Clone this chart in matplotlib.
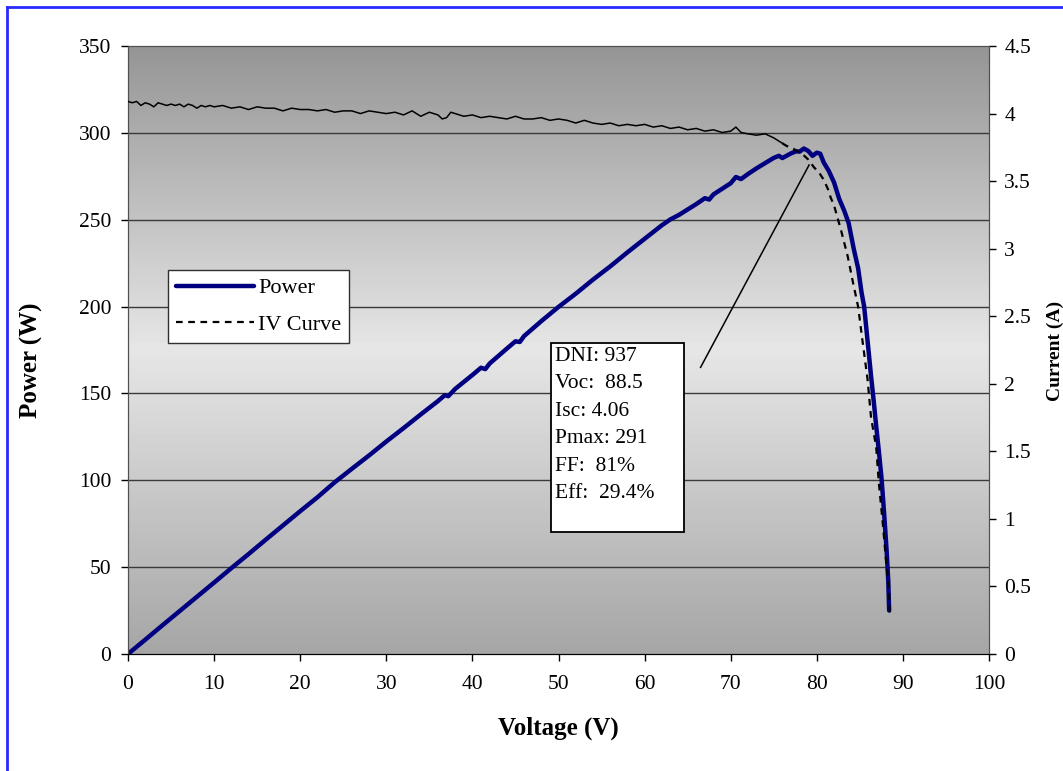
import numpy as np
import matplotlib
matplotlib.use("Agg")
import matplotlib.pyplot as plt
from matplotlib.lines import Line2D
from matplotlib.patches import Rectangle
from matplotlib.ticker import FuncFormatter

plt.rcParams['font.family'] = ['Liberation Serif', 'DejaVu Serif']

# power curve (V, W)
pv_volt = [0, 2, 4, 6, 8, 10, 12, 14, 16, 18, 20, 22, 24, 26, 28, 30, 32, 34,
           36, 36.8, 37.2, 38, 40, 41, 41.5, 42, 44, 45, 45.5, 46, 48, 50, 52,
           54, 56, 58, 60, 62, 63, 64, 66, 67, 67.5, 68, 70, 70.6, 71.2, 72, 73,
           74, 75, 75.6, 76, 77, 77.6, 78, 78.5, 79, 79.5, 80, 80.4, 80.8, 81.4,
           82, 82.6, 83.2, 83.7, 84.3, 84.8, 85.2, 85.5, 86.0, 86.3, 86.6, 86.9,
           87.2, 87.5, 87.7, 87.9, 88.1, 88.3, 88.4]
power = [0, 8.2, 16.5, 24.7, 32.9, 41.1, 49.4, 57.5, 65.8, 74.0, 82.2, 90.2,
         98.8, 106.6, 114.3, 122.3, 130.0, 137.9, 145.6, 149.0, 148.4, 152.6,
         160.6, 164.8, 164.0, 167.2, 175.8, 180.0, 179.6, 183.0, 191.6, 199.8,
         207.4, 215.5, 223.1, 231.2, 239.0, 246.8, 250.2, 252.8, 259.0, 262.4,
         261.6, 264.6, 271.0, 274.6, 273.4, 276.3, 279.6, 282.6, 285.6, 286.8,
         285.5, 288.2, 289.4, 289.2, 291.0, 289.6, 286.8, 288.6, 288.0, 283.0,
         278.0, 271.5, 262.0, 255.0, 248.0, 233.0, 222.0, 208.0, 200.0, 175.0,
         160.0, 146.0, 131.0, 117.0, 102.0, 89.0, 75.0, 60.0, 42.0, 25.0]

# IV curve (V, A): flat, noisy part
iv_volt = [0, 0.5, 1, 1.5, 2, 2.5, 3, 3.5, 4, 4.5, 5, 5.5, 6, 6.5, 7, 7.5, 8,
           8.5, 9, 9.5, 10, 11, 12, 13, 14, 15, 16, 17, 18, 19, 20, 21, 22, 23,
           24, 25, 26, 27, 28, 29, 30, 31, 32, 33, 34, 35, 36, 36.5, 37, 37.5,
           38, 39, 40, 41, 42, 43, 44, 45, 46, 47, 48, 49, 50, 51, 52, 53, 54,
           55, 56, 57, 58, 59, 60, 61, 62, 63, 64, 65, 66, 67, 68, 69, 70, 70.6,
           71.2, 72, 73, 74, 75, 75.5, 76]
current = [4.09, 4.08, 4.09, 4.06, 4.08, 4.07, 4.05, 4.08, 4.07, 4.06, 4.07,
           4.06, 4.07, 4.05, 4.07, 4.06, 4.04, 4.06, 4.05, 4.06, 4.05, 4.06,
           4.04, 4.05, 4.03, 4.05, 4.04, 4.04, 4.02, 4.04, 4.03, 4.03, 4.02,
           4.03, 4.01, 4.02, 4.02, 4.00, 4.02, 4.01, 4.00, 4.01, 3.99, 4.02,
           3.98, 4.01, 3.99, 3.96, 3.97, 4.01, 4.00, 3.98, 3.99, 3.97, 3.98,
           3.97, 3.96, 3.98, 3.96, 3.96, 3.97, 3.95, 3.96, 3.95, 3.93, 3.95,
           3.93, 3.92, 3.93, 3.91, 3.92, 3.91, 3.92, 3.90, 3.91, 3.89, 3.90,
           3.88, 3.89, 3.87, 3.88, 3.86, 3.87, 3.90, 3.86, 3.85, 3.84, 3.85,
           3.82, 3.80, 3.78]
# IV curve: knee and drop (dashed)
drop_volt = [76, 76.5, 77, 77.8, 78.5, 79, 79.7, 80.2, 80.8, 81.3, 81.6, 82.0,
             82.8, 83.6, 84.2, 84.8, 85.3, 85.9, 86.3, 86.9, 87.2, 87.7, 88.0,
             88.4, 88.5]
drop_current = [3.78, 3.76, 3.75, 3.72, 3.69, 3.66, 3.60, 3.57, 3.51, 3.44,
                3.38, 3.32, 3.14, 2.94, 2.75, 2.57, 2.32, 2.03, 1.75, 1.53,
                1.27, 0.94, 0.72, 0.45, 0.28]

info = ["DNI: 937", "Voc:  88.5", "Isc: 4.06", "Pmax: 291", "FF:  81%",
        "Eff:  29.4%"]

fig = plt.figure(figsize=(10.63, 7.71), dpi=100)
ax = fig.add_axes([0.1204, 0.1518, 0.8100, 0.7885])

# gradient background: dark at top and bottom, light in the middle
g = np.concatenate([np.linspace(0.585, 0.90, 60), np.linspace(0.90, 0.65, 60)])
ax.imshow(g.reshape(-1, 1), extent=[0, 100, 0, 350], aspect='auto',
          cmap='gray', vmin=0, vmax=1, zorder=0, interpolation='bilinear')
for yv in range(50, 350, 50):
    ax.axhline(yv, color='#3a3a3a', lw=1, zorder=1)

ax.plot(pv_volt, power, color='#000080', lw=3.2, solid_capstyle='round',
        solid_joinstyle='round', zorder=3)
ax.plot([66.5, 79.1], [165, 281.5], color='black', lw=1.1, zorder=4)

ax.set_xlim(0, 100)
ax.set_ylim(0, 350)
ax.set_xticks(range(0, 101, 10))
ax.set_yticks(range(0, 351, 50))

ax2 = ax.twinx()
ax2.set_ylim(0, 4.5)
ax2.set_yticks(np.arange(0, 4.51, 0.5))
ax2.yaxis.set_major_formatter(FuncFormatter(lambda v, p: '%g' % v))
ax2.plot(iv_volt, current, color='black', lw=1.1, zorder=3)
ax2.plot(drop_volt, drop_current, color='black', lw=1.6, ls=(0, (3, 2.5)),
         zorder=3)

for a in (ax, ax2):
    a.tick_params(direction='out', length=5, width=1, labelsize=15.5,
                  color='black')
    for s in a.spines.values():
        s.set_color('#505050')
ax.tick_params(axis='x', pad=10)
ax.tick_params(axis='y', pad=7)
ax2.tick_params(axis='y', pad=6)
ax.spines['bottom'].set_color('black')
ax2.spines['bottom'].set_color('black')

handles = [Line2D([], [], color='#000080', lw=3.2, solid_capstyle='round'),
           Line2D([], [], color='black', lw=1.6, ls=(0, (3, 2.5)))]
leg = ax2.legend(handles, ['Power', 'IV Curve'], loc='upper left',
                 bbox_to_anchor=(0.0465, 0.6316), fontsize=16,
                 handlelength=3.5, handletextpad=0.2, borderpad=0.35,
                 labelspacing=0.72, fancybox=False, framealpha=1,
                 edgecolor='#303030', borderaxespad=0)
leg.get_frame().set_linewidth(1)
leg.set_zorder(10)

# stats box
ax2.add_patch(Rectangle((0.4913, 0.2007), 0.1545, 0.3108,
                        transform=ax2.transAxes, fc='white', ec='black',
                        lw=1.3, zorder=11))
ax2.text(0.4955, 0.505, "\n".join(info), transform=ax2.transAxes,
         fontsize=15.5, va='top', ha='left', linespacing=1.6, zorder=12)

fig.text(0.030, 0.533, 'Power (W)', rotation=90, fontsize=18,
         fontweight='bold', ha='center', va='center')
fig.text(0.9925, 0.545, 'Current (A)', rotation=90, fontsize=14,
         fontweight='bold', ha='center', va='center')
fig.text(0.525, 0.056, 'Voltage (V)', fontsize=18, fontweight='bold',
         ha='center', va='center')

# blue chart border (left and top edges)
fig.add_artist(Line2D([0.0065, 0.0065], [0, 0.991], color='#2a2aff', lw=2,
                      transform=fig.transFigure))
fig.add_artist(Line2D([0.0065, 1.0], [0.991, 0.991], color='#2a2aff', lw=2,
                      transform=fig.transFigure))

fig.savefig('out.png', dpi=100)
